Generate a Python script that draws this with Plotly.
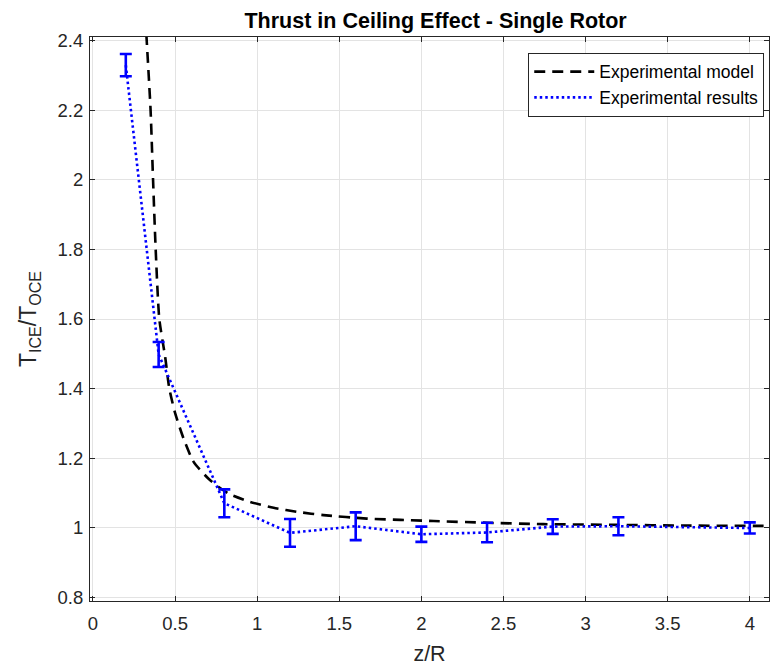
import plotly.graph_objects as go

# Experimental results (z/R, T_ICE/T_OCE, error)
res_x = [0.2, 0.4, 0.8, 1.2, 1.6, 2.0, 2.4, 2.8, 3.2, 4.0]
res_y = [2.33, 1.498, 1.07, 0.985, 1.004, 0.981, 0.986, 1.003, 1.004, 0.999]
res_err = [0.032, 0.036, 0.04, 0.04, 0.04, 0.022, 0.028, 0.021, 0.026, 0.016]

# Experimental model curve
mod_x = [0.325, 0.351, 0.366, 0.382, 0.404, 0.44, 0.465, 0.50, 0.552, 0.613,
         0.714, 0.826, 0.958, 1.10, 1.25, 1.404, 1.668, 2.074, 2.4, 2.743, 3.2, 3.6, 4.12]
mod_y = [2.42, 2.2, 2.0, 1.8, 1.6, 1.49, 1.40, 1.33, 1.256, 1.189,
         1.136, 1.098, 1.074, 1.057, 1.045, 1.036, 1.026, 1.019, 1.014, 1.010, 1.008, 1.006, 1.005]

x_ticks = [0, 0.5, 1, 1.5, 2, 2.5, 3, 3.5, 4]
y_ticks = [0.8, 1.0, 1.2, 1.4, 1.6, 1.8, 2.0, 2.2, 2.4]

font = "Liberation Sans, Arial, Helvetica, sans-serif"

fig = go.Figure()
fig.add_trace(go.Scatter(
    x=mod_x, y=mod_y, mode="lines", name="Experimental model",
    line=dict(color="black", width=2.6, dash="11px,7px", shape="spline", smoothing=0.6),
))
fig.add_trace(go.Scatter(
    x=res_x, y=res_y, mode="lines", name="Experimental results",
    line=dict(color="#0000ff", width=2.6, dash="2.5px,3px"),
    error_y=dict(type="data", array=res_err, visible=True, color="#0000ff",
                 thickness=2.6, width=6),
))

axis_common = dict(
    showgrid=True, gridcolor="#e3e3e3", gridwidth=1,
    showline=True, linecolor="#262626", linewidth=1, mirror="ticks",
    ticks="inside", ticklen=5, tickcolor="#262626", zeroline=False,
    tickfont=dict(family=font, size=18.5, color="#262626"),
)

fig.update_layout(
    width=771, height=666,
    margin=dict(l=90, r=2, t=37, b=65),
    paper_bgcolor="white", plot_bgcolor="white",
    title=dict(text="<b>Thrust in Ceiling Effect - Single Rotor</b>",
               x=0.565, xanchor="center", y=0.97, yanchor="middle",
               font=dict(family=font, size=21.5, color="black")),
    xaxis=dict(range=[-0.018, 4.117], tickvals=x_ticks,
               ticktext=["0", "0.5", "1", "1.5", "2", "2.5", "3", "3.5", "4"],
               ticklabelstandoff=6,
               title=dict(text="z/R", font=dict(family=font, size=21.5, color="#262626"), standoff=12),
               **axis_common),
    yaxis=dict(range=[0.789, 2.411], tickvals=y_ticks,
               ticktext=["0.8", "1", "1.2", "1.4", "1.6", "1.8", "2", "2.2", "2.4"],
               ticklabelstandoff=2,
               title=dict(text="T<sub>ICE</sub>/T<sub>OCE</sub>",
                          font=dict(family=font, size=23, color="#262626"), standoff=14),
               **axis_common),
    legend=dict(x=0.993, y=0.972, xanchor="right", yanchor="top",
                bgcolor="white", bordercolor="#262626", borderwidth=1,
                font=dict(family=font, size=17.5, color="black"),
                itemwidth=60, tracegroupgap=0),
    showlegend=True,
)

fig.write_html("out.html")
